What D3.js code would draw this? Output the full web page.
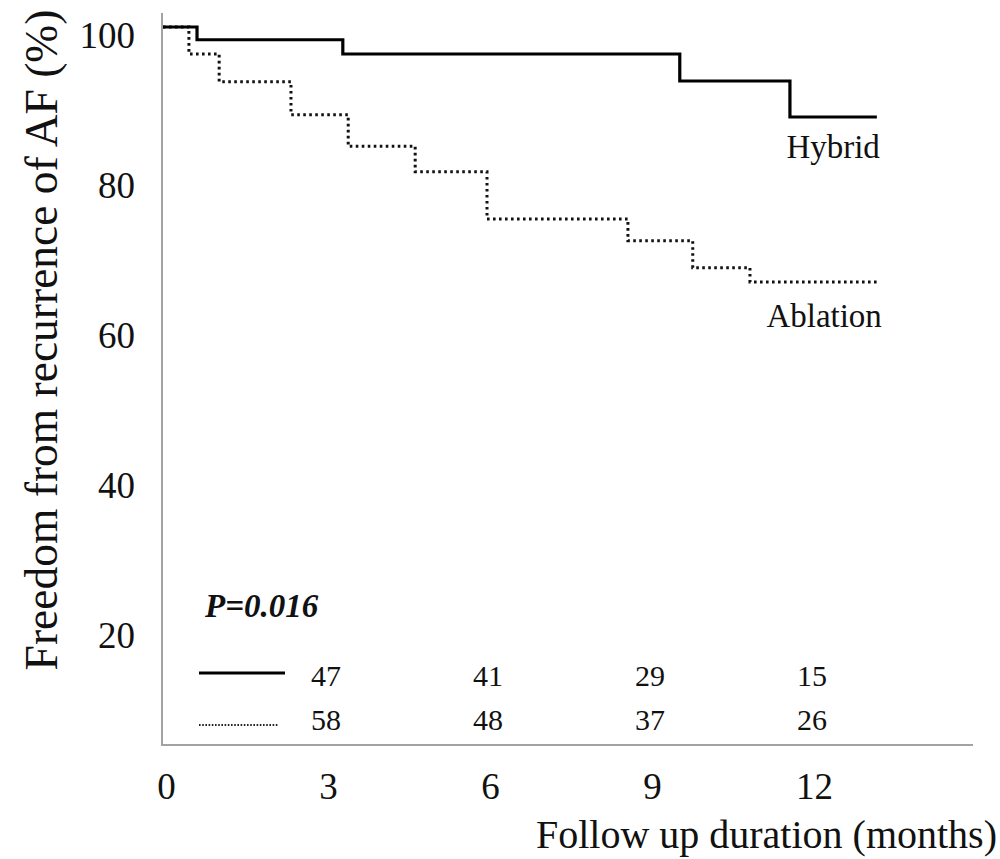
<!DOCTYPE html>
<html>
<head>
<meta charset="utf-8">
<script src="https://cdn.jsdelivr.net/npm/d3@7"></script>
<style>
  html, body { margin: 0; padding: 0; background: #fff; }
  svg { display: block; }
  text { font-family: "Liberation Serif", "Times New Roman", serif; fill: #111; }
</style>
</head>
<body>
<svg id="chart" width="1000" height="859"></svg>
<script>
// ---- data ----
const hybridTimes    = [0, 0.63, 3.33, 9.57, 11.61, 13.22];
const hybridSurv     = [100, 98.3, 96.4, 92.8, 88.0, 88.0];
const ablationTimes  = [0, 0.48, 1.04, 2.37, 3.43, 4.67, 6.0, 8.61, 9.81, 10.87, 13.22];
const ablationSurv   = [100, 96.4, 92.7, 88.3, 84.1, 80.7, 74.4, 71.5, 67.9, 66.0, 66.0];
const xTickValues    = [0, 3, 6, 9, 12];
const yTickValues    = [20, 40, 60, 80, 100];
const riskMonths     = [3, 6, 9, 12];
const hybridAtRisk   = [47, 41, 29, 15];
const ablationAtRisk = [58, 48, 37, 26];
const seriesLabels   = ["Hybrid", "Ablation"];
const pValueText     = "P=0.016";
const xTitle         = "Follow up duration (months)";
const yTitle         = "Freedom from recurrence of AF (%)";

// ---- layout ----
const serif = '"Liberation Serif", "Times New Roman", serif';
const svg = d3.select("#chart");
const axisX0 = 162, axisXEnd = 973, axisYTop = 13, axisYBottom = 745;
const x = d3.scaleLinear().domain([0, 15]).range([163, 973]);
const y = d3.scaleLinear().domain([0, 100]).range([777, 27]);

// axes lines (gray)
svg.append("line").attr("x1", axisX0).attr("x2", axisX0)
  .attr("y1", axisYTop).attr("y2", axisYBottom)
  .attr("stroke", "#a3a3a3").attr("stroke-width", 2);
svg.append("line").attr("x1", axisX0 - 1).attr("x2", axisXEnd)
  .attr("y1", axisYBottom).attr("y2", axisYBottom)
  .attr("stroke", "#a3a3a3").attr("stroke-width", 2);

// y tick labels
const yAxis = svg.append("g").attr("transform", `translate(${axisX0},0)`)
  .call(d3.axisLeft(y).tickValues(yTickValues).tickSize(0).tickPadding(27));
yAxis.select(".domain").remove();
yAxis.selectAll("text")
  .attr("dy", "0.55em")
  .style("font-family", serif)
  .style("font-size", "37px").attr("fill", "#111");

// x tick labels
const xAxis = svg.append("g").attr("transform", `translate(0,${axisYBottom})`)
  .call(d3.axisBottom(x).tickValues(xTickValues).tickSize(0).tickPadding(28));
xAxis.select(".domain").remove();
xAxis.selectAll("text")
  .attr("dx", "3")
  .style("font-family", serif)
  .style("font-size", "37px").attr("fill", "#111");

// axis titles
svg.append("text")
  .attr("transform", "translate(57,340) rotate(-90)")
  .attr("text-anchor", "middle")
  .style("font-family", serif)
  .style("font-size", "45.5px")
  .text(yTitle);
svg.append("text")
  .attr("x", 997).attr("y", 848)
  .attr("text-anchor", "end")
  .style("font-family", serif)
  .style("font-size", "40px")
  .text(xTitle);

// curves
const line = d3.line().x(d => x(d[0])).y(d => y(d[1])).curve(d3.curveStepAfter);
const hybridData = hybridTimes.map((t, i) => [t, hybridSurv[i]]);
const ablationData = ablationTimes.map((t, i) => [t, ablationSurv[i]]);

svg.append("path").datum(ablationData)
  .attr("d", line).attr("fill", "none")
  .attr("stroke", "#111").attr("stroke-width", 3)
  .attr("stroke-dasharray", "2.6,3.4");
svg.append("path").datum(hybridData)
  .attr("d", line).attr("fill", "none")
  .attr("stroke", "#000").attr("stroke-width", 3.2);

// series labels
const lastX = x(hybridTimes[hybridTimes.length - 1]);
svg.append("text").attr("x", lastX + 3).attr("y", y(hybridSurv[hybridSurv.length - 1]) + 41)
  .attr("text-anchor", "end").style("font-family", serif).style("font-size", "33px").text(seriesLabels[0]);
svg.append("text").attr("x", lastX + 5).attr("y", y(ablationSurv[ablationSurv.length - 1]) + 45)
  .attr("text-anchor", "end").style("font-family", serif).style("font-size", "33px").text(seriesLabels[1]);

// p value
svg.append("text").attr("x", 205).attr("y", 617)
  .style("font-family", serif)
  .style("font-size", "33px").style("font-weight", "bold").style("font-style", "italic")
  .text(pValueText);

// legend lines
svg.append("line").attr("x1", 199).attr("x2", 285).attr("y1", 673).attr("y2", 673)
  .attr("stroke", "#000").attr("stroke-width", 3.2);
svg.append("line").attr("x1", 199).attr("x2", 279).attr("y1", 725).attr("y2", 725)
  .attr("stroke", "#222").attr("stroke-width", 2).attr("stroke-dasharray", "1.6,1.6");

// at-risk numbers
svg.append("g").selectAll("text").data(hybridAtRisk).join("text")
  .attr("x", (d, i) => x(riskMonths[i]) + 1).attr("y", 686)
  .attr("text-anchor", "middle").style("font-family", serif).style("font-size", "30px").text(d => d);
svg.append("g").selectAll("text").data(ablationAtRisk).join("text")
  .attr("x", (d, i) => x(riskMonths[i]) + 1).attr("y", 730)
  .attr("text-anchor", "middle").style("font-family", serif).style("font-size", "30px").text(d => d);
</script>
</body>
</html>
